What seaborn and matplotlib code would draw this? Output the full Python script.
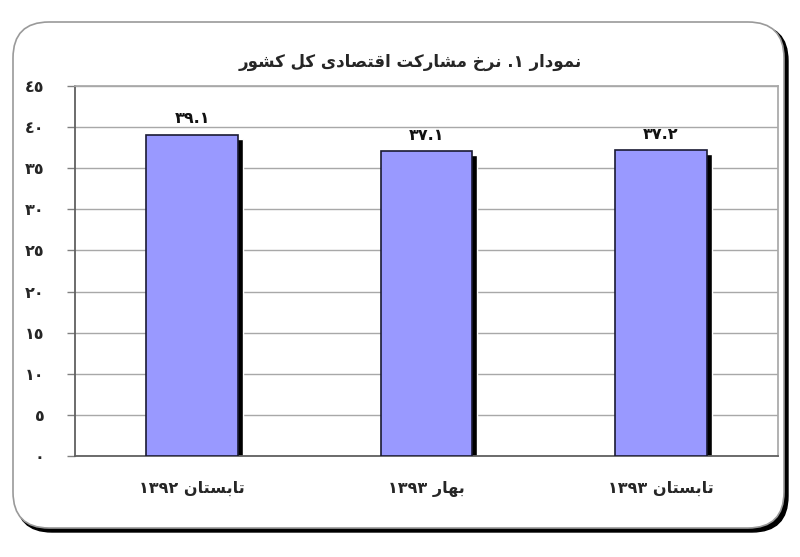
import re
import matplotlib
matplotlib.use("Agg")
import matplotlib.pyplot as plt
import matplotlib.transforms as mtransforms
from matplotlib.patches import FancyBboxPatch
import seaborn as sns
import pandas as pd

# data
title = "نمودار ١. نرخ مشارکت اقتصادی کل کشور"
seasons = ["تابستان ١٣٩٢", "بهار ١٣٩٣", "تابستان ١٣٩٣"]
rates = [39.1, 37.1, 37.2]
rate_labels = ["٣٩.١", "٣٧.١", "٣٧.٢"]
yticks = [0, 5, 10, 15, 20, 25, 30, 35, 40, 45]
ytick_labels = ["٠", "٥", "١٠", "١٥", "٢٠", "٢٥", "٣٠", "٣٥", "٤٠", "٤٥"]

# matplotlib has no arabic shaping, so do a small one by hand
# letter: (isolated, final, initial, medial); 2-tuple = joins only to the right
FORMS = {
    "ا": (0xFE8D, 0xFE8E), "د": (0xFEA9, 0xFEAA), "ر": (0xFEAD, 0xFEAE),
    "و": (0xFEED, 0xFEEE),
    "ب": (0xFE8F, 0xFE90, 0xFE91, 0xFE92), "ت": (0xFE95, 0xFE96, 0xFE97, 0xFE98),
    "خ": (0xFEA5, 0xFEA6, 0xFEA7, 0xFEA8), "س": (0xFEB1, 0xFEB2, 0xFEB3, 0xFEB4),
    "ش": (0xFEB5, 0xFEB6, 0xFEB7, 0xFEB8), "ص": (0xFEB9, 0xFEBA, 0xFEBB, 0xFEBC),
    "ق": (0xFED5, 0xFED6, 0xFED7, 0xFED8), "ل": (0xFEDD, 0xFEDE, 0xFEDF, 0xFEE0),
    "م": (0xFEE1, 0xFEE2, 0xFEE3, 0xFEE4), "ن": (0xFEE5, 0xFEE6, 0xFEE7, 0xFEE8),
    "ه": (0xFEE9, 0xFEEA, 0xFEEB, 0xFEEC), "ک": (0xFB8E, 0xFB8F, 0xFB90, 0xFB91),
    "ی": (0xFBFC, 0xFBFD, 0xFBFE, 0xFBFF),
}


def shape(text):
    out = []
    for i, ch in enumerate(text):
        if ch not in FORMS:
            out.append(ch)
            continue
        prev = text[i - 1] if i > 0 else ""
        nxt = text[i + 1] if i + 1 < len(text) else ""
        join_prev = prev in FORMS and len(FORMS[prev]) == 4
        join_next = len(FORMS[ch]) == 4 and nxt in FORMS
        f = FORMS[ch]
        if join_prev and join_next:
            code = f[3]
        elif join_prev:
            code = f[1]
        elif join_next:
            code = f[2]
        else:
            code = f[0]
        out.append(chr(code))
    shaped = "".join(out)
    # visual order: reverse, keep number runs left-to-right
    runs = re.findall(r"[0-9\u0660-\u0669\u06F0-\u06F9]+(?:\.[0-9\u0660-\u0669\u06F0-\u06F9]+)*|.", shaped)
    return "".join(reversed(runs))


sns.set_theme(style="white")
plt.rcParams["font.family"] = ["DejaVu Sans"]
plt.rcParams["font.weight"] = "bold"

fig = plt.figure(figsize=(8, 5.57), dpi=100)

# rounded frame with shadow
W, H = 800, 557
shadow = FancyBboxPatch((16 / W, 25 / H), 772 / W, 507 / H,
                        boxstyle="round,pad=0,rounding_size=0.045",
                        transform=fig.transFigure, facecolor="black",
                        edgecolor="black", lw=1, mutation_aspect=W / H, zorder=0)
frame = FancyBboxPatch((13 / W, 29 / H), 771 / W, 506 / H,
                       boxstyle="round,pad=0,rounding_size=0.045",
                       transform=fig.transFigure, facecolor="white",
                       edgecolor="#9a9a9a", lw=1.2, mutation_aspect=W / H, zorder=0.5)
fig.patches.extend([shadow, frame])

ax = fig.add_axes([75 / W, 1 - 456 / H, 703 / W, 370 / H])
ax.set_zorder(1)
ax.patch.set_alpha(0)

df = pd.DataFrame({"season": [shape(s) for s in seasons], "rate": rates})

# shadow bars first, shifted right/down (clipped at the axis)
sns.barplot(data=df, x="season", y="rate", color="black", width=0.39,
            saturation=1, ax=ax, zorder=2)
shift = mtransforms.ScaledTranslation(5 / 100, -4 / 100, fig.dpi_scale_trans)
for p in ax.patches:
    p.set_transform(ax.transData + shift)

sns.barplot(data=df, x="season", y="rate", color="#9999ff", width=0.39,
            saturation=1, edgecolor="#1a1a33", linewidth=1.2, ax=ax, zorder=3)

ax.bar_label(ax.containers[-1], labels=rate_labels, padding=6,
             fontsize=11.5, fontweight="bold", color="#111111")

ax.set_ylim(0, 45)
ax.set_xlim(-0.5, 2.5)
ax.set_yticks(yticks)
ax.set_yticklabels(ytick_labels, fontsize=11.5, fontweight="bold")
ax.set_xticks(range(len(seasons)))
ax.set_xticklabels(df["season"], fontsize=11.5, fontweight="bold")
ax.set_xticks([-0.5, 0.5, 1.5, 2.5], minor=True)
ax.tick_params(axis="x", which="major", length=0, pad=18)
ax.tick_params(axis="x", which="minor", length=6, color="#808080", width=1, direction="out")
ax.tick_params(axis="y", length=6, color="#808080", width=1, direction="out", pad=16, left=True)
ax.yaxis.grid(True, color="#a8a8a8", linewidth=1)
ax.set_axisbelow(True)
ax.set_xlabel("")
ax.set_ylabel("")
for side in ["top", "right"]:
    ax.spines[side].set_color("#a8a8a8")
for side in ["left", "bottom"]:
    ax.spines[side].set_color("#606060")
    ax.spines[side].set_linewidth(1.3)

fig.text(410 / W, 1 - 62 / H, shape(title), ha="center", va="center",
         fontsize=12, fontweight="bold")

fig.savefig("out.png", dpi=100)
